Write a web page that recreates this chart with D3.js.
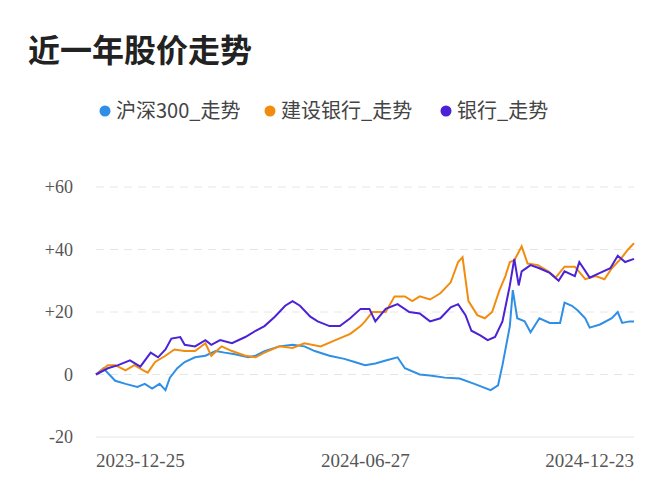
<!DOCTYPE html>
<html lang="zh">
<head>
<meta charset="UTF-8">
<title>近一年股价走势</title>
<script src="https://cdn.jsdelivr.net/npm/d3@7/dist/d3.min.js"></script>
<style>
  body { margin: 0; background: #fff; }
  .grid line { stroke: #e6e6e6; stroke-dasharray: 8 6; }
</style>
</head>
<body>
<script>
  // 日期偏移（天，相对 2023-12-25）与涨跌幅
  var startDate = '2023-12-25'
  var tickDates = ['2023-12-25', '2024-06-27', '2024-12-23']
  var yTicks = [-20, 0, 20, 40, 60]
  var seriesNames = ['沪深300_走势', '建设银行_走势', '银行_走势']
  var colors = ['#2f8fe6', '#f28c0f', '#4b22d6']

  var hs300 = [[0,0],[5,2],[13,-2],[20,-3],[28,-4],[33,-3],[38,-4.5],[43,-3],[47,-5],[50,-1],[55,2],[60,4],[67,5.5],[74,6],[81,7.5],[87,7],[94,6.5],[103,5.5],[108,6],[114,7.5],[124,9],[133,9.5],[141,9],[148,7.5],[158,6],[168,5],[175,4],[182,3],[189,3.5],[196,4.5],[204,5.5],[209,2],[219,0],[226,-0.3],[236,-1],[246,-1.3],[256,-3],[267,-5],[272,-3.5],[275,3],[280,15.5],[282,27],[285,18],[290,17],[294,13.5],[300,18],[307,16.5],[314,16.5],[317,23],[322,22],[326,20.5],[331,18],[334,15],[341,16],[349,18],[353,20],[356,16.5],[361,17],[364,17]]
  var ccb = [[0,0],[8,3],[13,3],[20,1.3],[26,3],[32,1.3],[35,0.6],[40,4],[47,6],[53,8],[60,7.5],[67,7.5],[74,10],[78,6],[85,9],[92,7.5],[101,6],[108,5.5],[114,7],[124,9],[133,8.5],[141,10],[152,9],[162,11],[172,13],[179,15.5],[182,17],[187,20],[196,20],[202,25],[209,25],[214,23.5],[219,25],[226,24],[233,26],[240,29.5],[245,36],[248,37.5],[252,23.5],[258,19],[263,18],[268,20],[273,27],[277,31.5],[280,36],[283,36.5],[288,41],[292,35.5],[299,35],[306,33],[311,31],[317,34.5],[324,34.5],[331,30.5],[338,31.5],[344,30.5],[349,34],[355,37],[360,40],[364,42]]
  var bank = [[0,0],[8,2],[15,3],[23,4.5],[30,2.5],[37,7],[42,5.5],[47,8],[51,11.5],[57,12],[60,9.5],[67,9],[74,11],[78,9.5],[84,11],[92,10],[101,12],[108,14],[114,15.5],[121,18.5],[128,22],[133,23.5],[138,22],[145,18.5],[150,17],[158,15.5],[165,15.5],[172,18],[179,21],[185,21],[189,17],[196,21],[204,22.5],[212,20],[219,19.5],[226,17],[233,18],[240,21.5],[245,22.5],[250,19],[254,14],[260,12.5],[265,11],[270,12],[275,17],[280,28.5],[283,37],[286,28.5],[288,33],[294,35],[300,34],[307,32.5],[313,30],[317,33],[324,31.5],[327,36],[334,31],[341,32.5],[348,34],[353,38],[358,36],[364,37]]

  var width = 672, height = 500
  var margin = {top: 187, right: 38, bottom: 63, left: 96}

  var svg = d3.select('body').append('svg')
      .attr('width', width)
      .attr('height', height)
      .style('font-family', '"Noto Sans CJK SC", sans-serif')

  svg.append('text')
      .attr('x', 28).attr('y', 62)
      .attr('font-size', 32).attr('font-weight', 'bold')
      .attr('fill', '#222')
      .text('近一年股价走势')

  var parse = d3.timeParse('%Y-%m-%d')
  var t0 = parse(startDate)
  var x = d3.scaleTime()
      .domain([t0, parse(tickDates[2])])
      .range([margin.left, width - margin.right])
  var y = d3.scaleLinear()
      .domain([-20, 60])
      .range([height - margin.bottom, margin.top])

  // 网格
  svg.append('g').attr('class', 'grid')
    .selectAll('line')
    .data(yTicks)
    .enter().append('line')
      .attr('x1', margin.left).attr('x2', width - margin.right)
      .attr('y1', d => y(d)).attr('y2', d => y(d))
      .style('stroke-dasharray', d => d === -20 ? 'none' : null)

  svg.append('g')
    .selectAll('text')
    .data(yTicks)
    .enter().append('text')
      .attr('x', 73).attr('y', d => y(d) + 6)
      .attr('text-anchor', 'end')
      .attr('font-family', '"Liberation Serif", serif')
      .attr('font-size', 18).attr('fill', '#555')
      .text(d => d > 0 ? '+' + d : d)

  svg.append('g')
    .selectAll('text')
    .data(tickDates)
    .enter().append('text')
      .attr('x', (d, i) => x(parse(d)) - (i === 1 ? 4 : 0))
      .attr('y', 467)
      .attr('text-anchor', (d, i) => ['start', 'middle', 'end'][i])
      .attr('font-family', '"Liberation Serif", serif')
      .attr('font-size', 19).attr('fill', '#555')
      .text(d => d)

  var line = d3.line()
      .x(d => x(d3.timeDay.offset(t0, d[0])))
      .y(d => y(d[1]))
      .curve(d3.curveLinear)

  svg.selectAll('.series')
    .data([hs300, ccb, bank])
    .enter().append('path')
      .attr('class', 'series')
      .attr('d', line)
      .attr('fill', 'none')
      .attr('stroke', (d, i) => colors[i])
      .attr('stroke-width', 2)

  // 图例
  var legendX = [105, 270, 446]
  var lg = svg.selectAll('.legend')
    .data(seriesNames)
    .enter().append('g')
      .attr('class', 'legend')
      .attr('transform', (d, i) => `translate(${legendX[i]}, 111)`)
  lg.append('circle').attr('r', 5.5).attr('fill', (d, i) => colors[i])
  lg.append('text')
      .attr('x', 11).attr('y', 7)
      .attr('font-size', 20).attr('fill', '#444')
      .text(d => d)
</script>
</body>
</html>
